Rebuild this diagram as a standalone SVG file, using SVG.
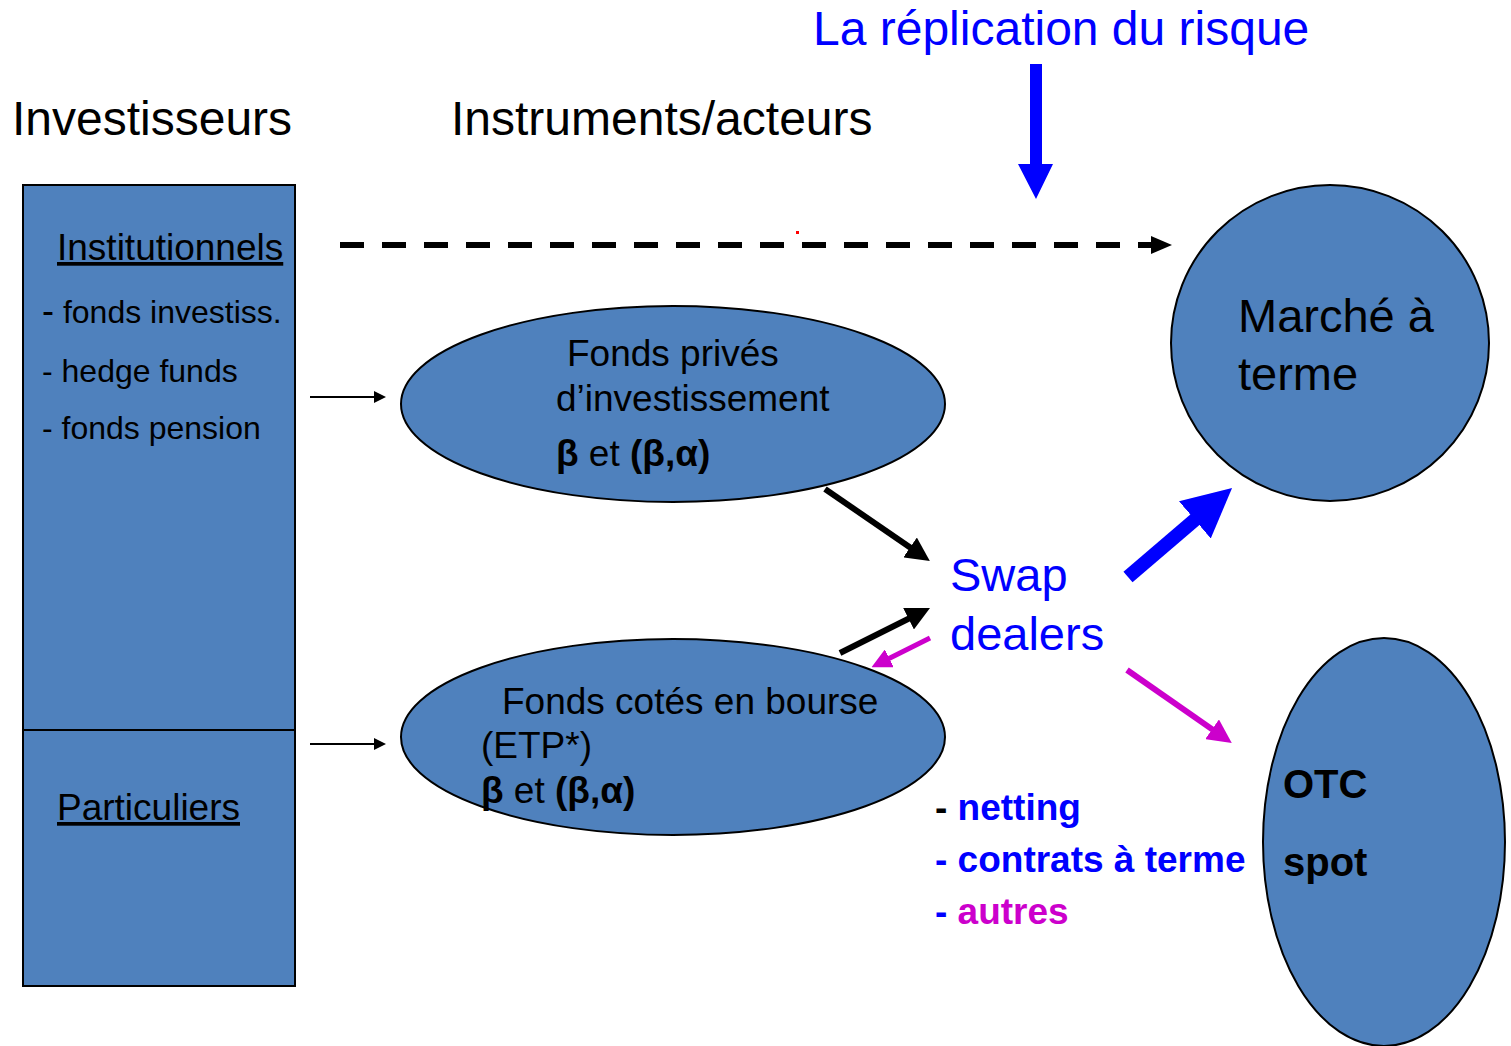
<svg xmlns="http://www.w3.org/2000/svg" width="1511" height="1046" viewBox="0 0 1511 1046">
<defs>
<style>
text{font-family:"Liberation Sans",Arial,sans-serif;}
.node{fill:#4F81BD;stroke:#000;stroke-width:2;}
.t48{font-size:48px;}
.t47{font-size:47px;}
.t37{font-size:37px;}
.t32{font-size:32px;}
.b{font-weight:bold;}
</style>
<marker id="ahK" viewBox="0 0 10 10" refX="3" refY="5" markerWidth="4" markerHeight="4" orient="auto"><path d="M0,0 L10,5 L0,10 z" fill="#000"/></marker>
<marker id="ahM" viewBox="0 0 10 10" refX="3" refY="5" markerWidth="4" markerHeight="4" orient="auto"><path d="M0,0 L10,5 L0,10 z" fill="#CC00CC"/></marker>
<marker id="ahB" viewBox="0 0 10 10" refX="3" refY="5" markerWidth="3.5" markerHeight="3.5" orient="auto"><path d="M0,0 L10,5 L0,10 z" fill="#0000FF"/></marker>
</defs>
<rect width="1511" height="1046" fill="#fff"/>

<g id="titles">
<text x="813" y="45" class="t48" fill="#0000FF">La réplication du risque</text>
<text x="12" y="135" class="t48" fill="#000">Investisseurs</text>
<text x="451" y="135" class="t48" fill="#000">Instruments/acteurs</text>
</g>

<g id="investisseurs">
<rect x="23" y="185" width="272" height="801" class="node"/>
<line x1="23" y1="730" x2="295" y2="730" stroke="#000" stroke-width="2"/>
<text x="57" y="260" class="t37" text-decoration="underline">Institutionnels</text>
<text x="42" y="323" class="t32"><tspan font-size="36">-</tspan> fonds investiss.</text>
<text x="42" y="382" class="t32">- hedge funds</text>
<text x="42" y="439" class="t32">- fonds pension</text>
<text x="57" y="820" class="t37" text-decoration="underline">Particuliers</text>
</g>

<g id="fonds-prives">
<ellipse cx="673" cy="404" rx="272" ry="98" class="node"/>
<text x="567" y="366" class="t37">Fonds privés</text>
<text x="556" y="411" class="t37">d’investissement</text>
<text x="556" y="466" class="t37"><tspan class="b">β</tspan> et <tspan class="b">(β,α)</tspan></text>
</g>

<g id="fonds-cotes">
<ellipse cx="673" cy="737" rx="272" ry="98" class="node"/>
<text x="502" y="714" class="t37">Fonds cotés en bourse</text>
<text x="481" y="758" class="t37">(ETP*)</text>
<text x="481" y="803" class="t37"><tspan class="b">β</tspan> et <tspan class="b">(β,α)</tspan></text>
</g>

<g id="marche-terme">
<ellipse cx="1330" cy="343" rx="159" ry="158" class="node"/>
<text x="1238" y="332" class="t47">Marché à</text>
<text x="1238" y="390" class="t47">terme</text>
</g>

<g id="otc-spot">
<ellipse cx="1384" cy="842" rx="121" ry="204" class="node"/>
<text x="1283" y="798" font-size="40" class="b">OTC</text>
<text x="1283" y="876" font-size="40" class="b">spot</text>
</g>

<g id="swap-dealers">
<text x="950" y="591" class="t47" fill="#0000FF">Swap</text>
<text x="950" y="650" class="t47" fill="#0000FF">dealers</text>
</g>

<g id="liste">
<text x="935" y="820" class="t37 b"><tspan fill="#000">-</tspan> <tspan fill="#0000FF">netting</tspan></text>
<text x="935" y="872" class="t37 b" fill="#0000FF">- contrats à terme</text>
<text x="935" y="924" class="t37 b"><tspan fill="#0000FF">-</tspan> <tspan fill="#CC00CC">autres</tspan></text>
</g>

<g id="connectors">
<path d="M1030,64 H1042 V164 H1053 L1036,199 L1018,164 H1030 Z" fill="#0000FF"/>
<line x1="340" y1="245" x2="1153" y2="245" stroke="#000" stroke-width="6" stroke-dasharray="24 18"/>
<polygon points="1151,236 1172,245 1151,254" fill="#000"/>
<rect x="796" y="231" width="3" height="3" fill="#FF0000"/>
<line x1="310" y1="397" x2="376" y2="397" stroke="#000" stroke-width="2"/>
<polygon points="374,391 386,397 374,403" fill="#000"/>
<line x1="310" y1="744" x2="376" y2="744" stroke="#000" stroke-width="2"/>
<polygon points="374,738 386,744 374,750" fill="#000"/>
<line x1="825" y1="489" x2="916" y2="551.5" stroke="#000" stroke-width="6" marker-end="url(#ahK)"/>
<line x1="840" y1="653" x2="915" y2="615.5" stroke="#000" stroke-width="6" marker-end="url(#ahK)"/>
<line x1="930" y1="638" x2="884" y2="661" stroke="#CC00CC" stroke-width="5" marker-end="url(#ahM)"/>
<line x1="1128" y1="577" x2="1206" y2="510.3" stroke="#0000FF" stroke-width="14" marker-end="url(#ahB)"/>
<line x1="1127" y1="670" x2="1218" y2="733.4" stroke="#CC00CC" stroke-width="6" marker-end="url(#ahM)"/>
</g>
</svg>
